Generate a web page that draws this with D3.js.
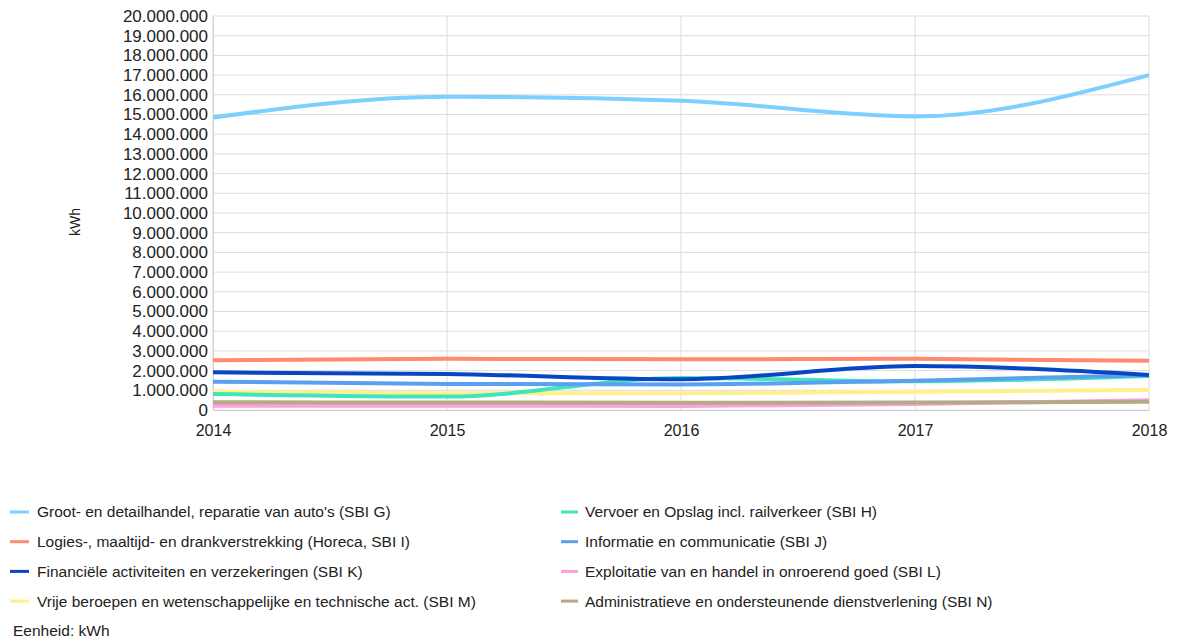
<!DOCTYPE html>
<html>
<head>
<meta charset="utf-8">
<script src="https://cdn.jsdelivr.net/npm/d3@7"></script>
<style>
  body { margin: 0; background: #fff; }
  text { font-family: "Liberation Sans", Arial, sans-serif; fill: #222; }
</style>
</head>
<body>
<div class="js-vis"></div>
<script>
const years = [2014, 2015, 2016, 2017, 2018]

const seriesNames = [
  "Groot- en detailhandel, reparatie van auto's (SBI G)",
  "Vervoer en Opslag incl. railverkeer (SBI H)",
  "Logies-, maaltijd- en drankverstrekking (Horeca, SBI I)",
  "Informatie en communicatie (SBI J)",
  "Financiële activiteiten en verzekeringen (SBI K)",
  "Exploitatie van en handel in onroerend goed (SBI L)",
  "Vrije beroepen en wetenschappelijke en technische act. (SBI M)",
  "Administratieve en ondersteunende dienstverlening (SBI N)"
]

const sbiG = [14850000, 15900000, 15700000, 14900000, 17000000]
const sbiH = [810000, 680000, 1620000, 1460000, 1720000]
const sbiI = [2520000, 2600000, 2570000, 2600000, 2500000]
const sbiJ = [1440000, 1320000, 1300000, 1490000, 1760000]
const sbiK = [1910000, 1830000, 1560000, 2230000, 1780000]
const sbiL = [220000, 220000, 200000, 300000, 500000]
const sbiM = [930000, 850000, 850000, 930000, 1020000]
const sbiN = [390000, 380000, 370000, 380000, 420000]

const colors = ["#7dcfff", "#3fe6bd", "#ff8a70", "#5a9ff0", "#0747c4", "#ff9ee0", "#fff08c", "#b5aa86"]
const values = [sbiG, sbiH, sbiI, sbiJ, sbiK, sbiL, sbiM, sbiN]

const yTicks = d3.range(0, 20000001, 1000000)

const svg = d3.select(".js-vis").append("svg")
  .attr("width", 1179)
  .attr("height", 641)

const margin = { top: 16, left: 213 },
    width = 936,
    height = 394

const x = d3.scaleLinear()
  .domain([2014, 2018])
  .range([0, width])

const y = d3.scaleLinear()
  .domain([0, 20000000])
  .range([height, 0])

const vis = svg.append("g")
  .attr("transform", "translate(" + margin.left + "," + margin.top + ")")

// grid
vis.append("g")
  .selectAll("line")
  .data(yTicks)
.enter().append("line")
  .attr("x1", 0).attr("x2", width)
  .attr("y1", d => y(d)).attr("y2", d => y(d))
  .attr("stroke", "#dcdcdc")

vis.append("g")
  .selectAll("line")
  .data(years)
.enter().append("line")
  .attr("x1", d => x(d)).attr("x2", d => x(d))
  .attr("y1", 0).attr("y2", height)
  .attr("stroke", "#dcdcdc")

const fmt = d => d3.format(",")(d).replace(/,/g, ".")

const yax = d3.axisLeft(y).tickValues(yTicks).tickFormat(fmt).tickSize(0).tickPadding(5)
const xax = d3.axisBottom(x).tickValues(years).tickFormat(d3.format("d")).tickSize(0).tickPadding(15)

vis.append("g")
  .call(yax)
  .call(g => g.select(".domain").attr("stroke", "#cfcfcf"))
  .selectAll("text").style("font-size", "17px")

vis.append("g")
  .attr("transform", "translate(0," + height + ")")
  .call(xax)
  .call(g => g.select(".domain").attr("stroke", "#cfcfcf"))
  .selectAll("text").style("font-size", "16px")

svg.append("text")
  .attr("transform", "translate(80,222) rotate(-90)")
  .attr("text-anchor", "middle")
  .style("font-size", "14px")
  .text("kWh")

const line = d3.line()
  .x((d, i) => x(years[i]))
  .y(d => y(d))
  .curve(d3.curveMonotoneX)

// draw order: smaller ones first, dominant on top like reference
const order = [5, 7, 6, 1, 3, 2, 4, 0]
vis.append("g")
  .selectAll("path")
  .data(order)
.enter().append("path")
  .attr("d", i => line(values[i]))
  .attr("fill", "none")
  .attr("stroke", i => colors[i])
  .attr("stroke-width", 4)

// legend
const legend = svg.append("g")
  .selectAll("g")
  .data(seriesNames)
.enter().append("g")
  .attr("transform", (d, i) => "translate(" + (i % 2 ? 561 : 10) + "," + (512 + Math.floor(i / 2) * 29.7) + ")")

legend.append("line")
  .attr("x1", 0).attr("x2", (d, i) => i % 2 ? 17 : 19)
  .attr("stroke", (d, i) => colors[i])
  .attr("stroke-width", 3)

legend.append("text")
  .attr("x", (d, i) => i % 2 ? 24 : 27)
  .attr("dy", "0.35em")
  .style("font-size", "15.5px")
  .text(d => d)

svg.append("text")
  .attr("x", 13)
  .attr("y", 631)
  .attr("dy", "0.35em")
  .style("font-size", "15.5px")
  .text("Eenheid: kWh")
</script>
</body>
</html>
